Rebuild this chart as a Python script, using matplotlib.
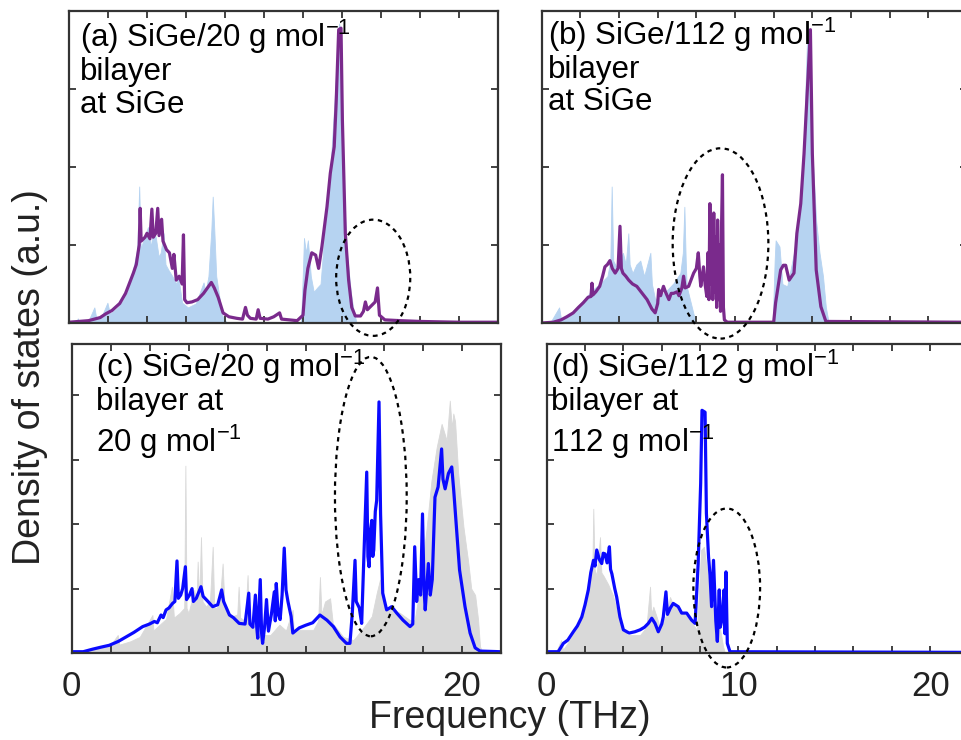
import numpy as np
import matplotlib
matplotlib.use('Agg')
import matplotlib.pyplot as plt
from matplotlib.patches import Ellipse

plt.rcParams['font.family'] = ['Liberation Sans', 'DejaVu Sans']
plt.rcParams['mathtext.fontset'] = 'custom'
plt.rcParams['mathtext.rm'] = 'Liberation Sans'
plt.rcParams['mathtext.it'] = 'Liberation Sans:italic'

# (a) SiGe/20 bilayer, DOS at SiGe: bilayer (line) and bulk SiGe (fill)
freq_a_line = [0.0, 0.5, 1.0, 1.3, 1.6, 1.9, 2.2, 2.6, 2.9, 3.1, 3.3, 3.45, 3.6, 3.65, 3.7, 3.9, 4.0, 4.15,
               4.25, 4.32, 4.45, 4.55, 4.62, 4.75, 4.82, 5.0, 5.15, 5.3, 5.38, 5.5, 5.65, 5.8, 5.87, 5.93,
               6.05, 6.3, 6.6, 6.9, 7.1, 7.3, 7.45, 7.65, 7.9, 8.2, 8.6, 8.9, 9.05, 9.15, 9.3, 9.6, 9.7,
               9.8, 10.2, 10.5, 10.8, 10.9, 11.3, 11.7, 12.0, 12.1, 12.25, 12.45, 12.65, 12.8, 12.97,
               13.23, 13.4, 13.6, 13.7, 13.83, 13.95, 14.02, 14.17, 14.34, 14.5, 14.68, 14.95, 15.1,
               15.2, 15.3, 15.5, 15.7, 15.82, 15.92, 16.2, 17.0, 18.0, 20.0, 22.0]
dos_a_line = [0.01, 0.02, 0.03, 0.05, 0.07, 0.12, 0.16, 0.25, 0.38, 0.51, 0.64, 0.75, 1.0, 1.47, 1.05, 1.1,
              1.15, 1.08, 1.46, 1.1, 1.15, 1.47, 1.12, 1.33, 1.05, 0.94, 0.9, 0.7, 0.88, 0.55, 0.6, 0.5,
              1.13, 0.3, 0.26, 0.27, 0.3, 0.38, 0.45, 0.52, 0.45, 0.33, 0.13, 0.08, 0.06, 0.05, 0.2, 0.1,
              0.06, 0.05, 0.17, 0.06, 0.05, 0.08, 0.13, 0.05, 0.04, 0.03, 0.1, 0.42, 0.7, 0.9, 0.87, 0.7,
              0.98, 1.49, 1.92, 2.26, 2.82, 3.76, 3.78, 2.6, 1.15, 0.55, 0.2, 0.09, 0.09, 0.15, 0.27,
              0.17, 0.22, 0.27, 0.45, 0.1, 0.04, 0.03, 0.02, 0.01, 0.01]
freq_a_fill = [0.0, 0.4, 0.45, 0.5, 1.0, 1.3, 1.4, 1.7, 1.97, 2.1, 2.5, 2.8, 3.0, 3.3, 3.5, 3.6, 3.68, 3.8,
               4.05, 4.2, 4.3, 4.45, 4.6, 4.7, 4.85, 4.95, 5.1, 5.3, 5.5, 5.6, 5.8, 6.1, 6.5, 6.9, 7.0,
               7.15, 7.3, 7.37, 7.45, 7.55, 7.7, 7.85, 8.1, 11.9, 12.0, 12.05, 12.15, 12.25, 12.4, 12.55,
               12.75, 12.9, 13.15, 13.4, 13.66, 13.8, 13.85, 13.95, 14.08, 14.25, 14.46, 14.6, 14.75, 22.0]
dos_a_fill = [0.0, 0.02, 0.06, 0.02, 0.03, 0.2, 0.06, 0.1, 0.26, 0.12, 0.2, 0.3, 0.4, 0.7, 0.95, 1.75, 0.95,
              1.05, 1.23, 0.97, 1.2, 1.1, 0.85, 0.9, 1.15, 0.75, 0.68, 0.6, 0.5, 0.6, 0.26, 0.2, 0.25,
              0.52, 0.4, 0.6, 1.2, 1.62, 1.2, 0.6, 0.35, 0.1, 0.0, 0.0, 0.7, 1.09, 0.9, 1.06, 0.6, 0.4,
              0.46, 0.5, 1.32, 1.96, 3.03, 3.7, 3.84, 3.7, 1.75, 0.9, 0.38, 0.15, 0.0, 0.0]

# (b) SiGe/112 bilayer, DOS at SiGe
freq_b_line = [0.0, 0.6, 1.0, 1.3, 1.63, 1.9, 2.15, 2.4, 2.55, 2.6, 2.65, 2.8, 3.0, 3.15, 3.27, 3.4, 3.53,
               3.65, 3.8, 3.95, 4.05, 4.12, 4.2, 4.35, 4.5, 4.7, 4.92, 5.2, 5.45, 5.7, 5.87, 6.0, 6.05,
               6.15, 6.3, 6.4, 6.58, 6.7, 6.82, 7.0, 7.1, 7.25, 7.34, 7.42, 7.6, 7.86, 8.0, 8.1, 8.18,
               8.23, 8.37, 8.45, 8.54, 8.6, 8.65, 8.7, 8.75, 8.8, 8.85, 8.9, 8.95, 9.0, 9.05, 9.1, 9.15,
               9.2, 9.25, 9.3, 9.35, 9.4, 9.45, 9.6, 12.0, 12.1, 12.36, 12.5, 12.62, 12.8, 13.05, 13.2,
               13.4, 13.57, 13.75, 13.9, 14.0, 14.2, 14.44, 14.7, 22.0]
dos_b_line = [0.0, 0.01, 0.04, 0.08, 0.13, 0.2, 0.26, 0.33, 0.34, 0.51, 0.36, 0.4, 0.47, 0.6, 0.72, 0.75,
              0.8, 0.7, 0.64, 0.7, 1.24, 0.7, 0.64, 0.6, 0.55, 0.5, 0.47, 0.38, 0.3, 0.18, 0.13, 0.25,
              0.43, 0.35, 0.47, 0.4, 0.3, 0.38, 0.38, 0.4, 0.35, 0.45, 0.6, 0.45, 0.47, 0.64, 0.7, 0.9,
              0.6, 0.47, 0.72, 0.5, 0.34, 0.9, 0.3, 1.53, 0.5, 1.2, 0.3, 1.41, 0.4, 1.1, 0.2, 1.32, 0.3,
              1.0, 0.15, 1.2, 1.9, 0.2, 0.04, 0.01, 0.01, 0.26, 0.68, 0.74, 0.74, 0.55, 0.64, 1.15, 1.53,
              2.17, 3.03, 3.76, 2.17, 0.68, 0.21, 0.02, 0.01]
freq_b_fill = [0.0, 0.5, 0.9, 1.0, 1.5, 1.8, 2.2, 2.6, 3.0, 3.4, 3.55, 3.62, 3.7, 3.9, 4.2, 4.35, 4.48,
               4.55, 4.7, 4.9, 5.1, 5.3, 5.62, 5.7, 5.87, 6.1, 6.4, 6.82, 7.17, 7.3, 7.38, 7.45, 7.5, 7.8,
               7.97, 11.95, 12.05, 12.1, 12.3, 12.45, 12.7, 13.05, 13.3, 13.57, 13.75, 13.85, 14.0, 14.2,
               14.37, 14.55, 14.7, 14.85, 22.0]
dos_b_fill = [0.0, 0.03, 0.2, 0.05, 0.12, 0.2, 0.3, 0.42, 0.5, 0.6, 0.8, 1.75, 0.8, 0.7, 0.9, 0.75, 1.15,
              0.75, 0.64, 0.75, 0.8, 0.6, 0.9, 0.5, 0.3, 0.35, 0.4, 0.51, 0.64, 0.9, 1.49, 0.8, 0.47, 0.17,
              0.0, 0.0, 0.8, 1.06, 0.98, 0.5, 0.47, 0.9, 1.32, 2.4, 3.84, 3.47, 2.2, 1.3, 0.9, 0.6, 0.2,
              0.0, 0.0]

# (c) SiGe/20 bilayer, DOS at the 20 g/mol layer
freq_c_line = [0.0, 0.6, 1.09, 1.5, 1.94, 2.4, 2.8, 3.2, 3.65, 4.0, 4.25, 4.4, 4.59, 4.7, 4.85, 5.0, 5.18,
               5.3, 5.41, 5.48, 5.6, 5.7, 5.84, 5.9, 6.05, 6.18, 6.25, 6.4, 6.64, 6.75, 7.0, 7.24, 7.5,
               7.7, 7.8, 8.1, 8.3, 8.6, 8.9, 9.09, 9.15, 9.3, 9.43, 9.5, 9.55, 9.68, 9.75, 9.8, 9.9, 10.0,
               10.1, 10.25, 10.4, 10.45, 10.5, 10.6, 10.7, 10.8, 10.91, 11.0, 11.1, 11.26, 11.35, 11.68,
               12.0, 12.37, 12.74, 13.1, 13.43, 13.77, 14.1, 14.28, 14.4, 14.54, 14.6, 14.76, 14.88, 15.0,
               15.14, 15.2, 15.26, 15.33, 15.4, 15.45, 15.5, 15.58, 15.65, 15.77, 15.85, 15.96, 16.16,
               16.42, 16.68, 17.0, 17.36, 17.5, 17.6, 17.7, 17.8, 17.9, 18.0, 18.08, 18.14, 18.3, 18.4,
               18.5, 18.64, 18.8, 18.98, 19.05, 19.16, 19.33, 19.5, 19.6, 19.75, 19.9, 20.18, 20.44,
               20.7, 20.95, 22.0]
dos_c_line = [0.02, 0.02, 0.06, 0.09, 0.12, 0.18, 0.25, 0.32, 0.41, 0.45, 0.49, 0.47, 0.59, 0.55, 0.67,
              0.7, 0.77, 0.8, 1.43, 0.85, 0.9, 1.0, 1.34, 0.83, 0.9, 1.0, 0.8, 0.85, 1.03, 0.88, 0.8,
              0.72, 0.75, 0.98, 0.8, 0.59, 0.55, 0.46, 0.45, 0.93, 0.45, 0.4, 0.9, 0.4, 0.23, 1.14, 0.3,
              0.15, 0.4, 0.83, 0.34, 0.6, 0.95, 0.5, 1.08, 0.6, 0.52, 0.9, 1.63, 0.98, 0.8, 0.57, 0.31,
              0.39, 0.43, 0.47, 0.59, 0.51, 0.41, 0.25, 0.15, 0.15, 0.62, 1.44, 0.8, 0.7, 0.46, 1.55,
              2.81, 1.5, 1.34, 1.9, 2.06, 1.5, 1.6, 2.2, 2.37, 3.9, 2.16, 0.93, 0.67, 0.72, 0.62, 0.51,
              0.41, 0.45, 1.65, 0.8, 1.14, 0.9, 2.16, 1.0, 0.67, 1.39, 0.9, 1.14, 2.42, 2.58, 3.17, 2.7,
              2.55, 2.79, 2.89, 2.53, 1.91, 1.29, 0.72, 0.31, 0.08, 0.03, 0.02]
freq_c_fill = [0.0, 0.5, 1.0, 1.5, 2.0, 2.37, 2.45, 3.0, 3.5, 4.15, 4.2, 4.85, 5.15, 5.25, 5.54, 5.78, 5.84,
               5.9, 6.0, 6.3, 6.4, 6.47, 6.55, 6.64, 6.72, 6.9, 7.1, 7.24, 7.32, 7.45, 7.6, 7.75, 7.85,
               8.0, 8.26, 8.5, 8.57, 8.65, 8.9, 9.03, 9.1, 9.3, 9.65, 10.2, 10.66, 11.0, 11.34, 11.4,
               11.7, 12.4, 12.65, 12.74, 12.82, 13.0, 13.26, 13.4, 13.94, 14.46, 14.88, 15.14, 15.4,
               15.65, 15.82, 16.08, 16.42, 16.85, 17.36, 17.6, 17.87, 18.2, 18.46, 18.73, 18.98, 19.24,
               19.4, 19.5, 19.58, 19.67, 19.83, 20.1, 20.35, 20.5, 20.7, 20.85, 20.95, 21.1, 22.0]
dos_c_fill = [0.0, 0.03, 0.06, 0.08, 0.12, 0.28, 0.13, 0.18, 0.25, 0.59, 0.35, 0.53, 1.03, 0.55, 0.62, 0.7,
              2.91, 0.7, 0.62, 0.98, 0.7, 1.42, 0.8, 1.8, 0.8, 0.72, 0.8, 1.65, 0.7, 0.7, 0.8, 1.39, 0.7,
              0.65, 0.57, 0.6, 1.03, 0.55, 0.5, 1.21, 0.5, 0.44, 0.28, 0.28, 0.44, 0.35, 0.67, 0.3, 0.36,
              0.36, 0.5, 1.18, 0.6, 0.8, 0.85, 0.46, 0.25, 0.2, 0.36, 0.46, 0.57, 0.93, 1.14, 0.67, 0.69,
              0.62, 0.51, 0.51, 1.03, 1.91, 2.68, 3.2, 3.56, 3.3, 3.92, 3.5, 3.72, 3.6, 2.79, 1.96, 1.4,
              1.0, 0.9, 0.52, 0.1, 0.0, 0.0]

# (d) SiGe/112 bilayer, DOS at the 112 g/mol layer
freq_d_line = [0.0, 0.6, 0.87, 1.1, 1.39, 1.6, 1.83, 2.0, 2.17, 2.3, 2.44, 2.52, 2.61, 2.75, 2.87, 2.95,
               3.04, 3.15, 3.27, 3.33, 3.4, 3.55, 3.65, 3.82, 4.0, 4.3, 4.6, 4.87, 5.1, 5.3, 5.48, 5.65,
               5.82, 6.0, 6.08, 6.22, 6.3, 6.45, 6.6, 6.86, 7.04, 7.3, 7.56, 7.74, 7.9, 8.03, 8.1, 8.26,
               8.33, 8.44, 8.52, 8.6, 8.7, 8.82, 8.9, 9.0, 9.05, 9.13, 9.25, 9.3, 9.35, 9.42, 9.56, 22.0]
dos_d_line = [0.02, 0.02, 0.15, 0.2, 0.33, 0.42, 0.56, 0.75, 0.98, 1.25, 1.44, 1.35, 1.6, 1.45, 1.39, 1.55,
              1.54, 1.4, 1.65, 1.3, 1.23, 1.0, 0.87, 0.56, 0.36, 0.31, 0.33, 0.36, 0.4, 0.46, 0.54, 0.46,
              0.33, 0.45, 0.56, 0.95, 0.6, 0.7, 0.77, 0.72, 0.62, 0.62, 0.51, 0.46, 1.39, 2.63, 3.77,
              3.74, 2.17, 1.5, 1.2, 0.72, 1.44, 0.5, 0.18, 0.98, 0.4, 0.5, 0.98, 0.3, 1.26, 0.15, 0.02,
              0.01]
freq_d_fill = [0.0, 0.5, 0.75, 0.85, 1.2, 1.6, 2.0, 2.2, 2.38, 2.43, 2.5, 2.6, 2.78, 2.85, 2.96, 3.2, 3.45,
               3.82, 4.2, 4.87, 5.2, 5.39, 5.45, 5.56, 5.9, 6.26, 6.43, 6.6, 6.78, 7.13, 7.48, 7.83, 7.95,
               8.05, 8.2, 8.4, 8.6, 8.8, 9.0, 9.2, 9.3, 22.0]
dos_d_fill = [0.0, 0.02, 0.2, 0.05, 0.2, 0.4, 0.8, 0.98, 1.3, 2.24, 1.3, 1.2, 1.8, 1.25, 1.2, 1.07, 0.9,
              0.46, 0.28, 0.28, 0.4, 1.03, 0.6, 0.72, 0.41, 0.6, 0.87, 0.75, 0.7, 0.62, 0.51, 0.36, 1.0,
              1.6, 1.65, 1.2, 0.8, 0.6, 0.45, 0.1, 0.0, 0.0]

labels = [
    ['(a) SiGe/20 g mol$^{-1}$', 'bilayer', 'at SiGe'],
    ['(b) SiGe/112 g mol$^{-1}$', 'bilayer', 'at SiGe'],
    ['(c) SiGe/20 g mol$^{-1}$', 'bilayer at', '20 g mol$^{-1}$'],
    ['(d) SiGe/112 g mol$^{-1}$', 'bilayer at', '112 g mol$^{-1}$'],
]

# dotted ellipses: centre (THz, DOS), width (THz), height (DOS)
ellipses = [((15.6, 0.58), 3.8, 1.49), ((9.25, 1.02), 4.95, 2.44),
            ((15.35, 2.43), 3.68, 4.34), ((9.39, 1.01), 3.48, 2.47)]

W, H = 961, 740
fig = plt.figure(figsize=(W / 100, H / 100), dpi=100)


def px_axes(x0, y_top, x1, y_bot):
    return fig.add_axes([x0 / W, 1 - y_bot / H, (x1 - x0) / W, (y_bot - y_top) / H])


axes = [px_axes(69, 11, 498, 323), px_axes(541.7, 11, 967, 323),
        px_axes(71.5, 344, 500.5, 653), px_axes(546.7, 344, 968.5, 653)]
ylims = [4.0, 4.0, 4.8, 4.8]

series = [
    (freq_a_line, dos_a_line, freq_a_fill, dos_a_fill, '#7a2a8c', '#b6d3f1'),
    (freq_b_line, dos_b_line, freq_b_fill, dos_b_fill, '#7a2a8c', '#b6d3f1'),
    (freq_c_line, dos_c_line, freq_c_fill, dos_c_fill, '#0a0aff', '#d9d9d9'),
    (freq_d_line, dos_d_line, freq_d_fill, dos_d_fill, '#0a0aff', '#d9d9d9'),
]

for i, ax in enumerate(axes):
    fl, dl, ff, df, lc, fc = series[i]
    ax.fill_between(ff, 0, df, color=fc, lw=0.6, zorder=1)
    ax.plot(fl, dl, color=lc, lw=2.3, zorder=2)
    (cx, cy), ew, eh = ellipses[i]
    ax.add_patch(Ellipse((cx, cy), ew, eh, fill=False, ec='black', lw=1.6,
                         ls=(0, (2, 2)), clip_on=False, zorder=5))
    ax.set_xlim(0, 22)
    ax.set_ylim(0, ylims[i])
    ax.set_xticks(np.arange(0, 23, 2), minor=True)
    ax.set_xticks([0, 10, 20])
    ax.set_yticks([1, 2, 3, 4])
    ax.set_yticklabels([])
    ax.tick_params(which='both', direction='in', top=True, right=True, length=5,
                   width=1.3, color='#333333', labelsize=25, pad=12)
    for s in ax.spines.values():
        s.set_color('#333333')
        s.set_linewidth(1.6)
    if i < 2:
        ax.set_xticklabels([])
    else:
        for t in ax.get_xticklabels():
            t.set_color('#222222')

# panel captions, baselines in pixels
caption_pos = [(80, [47, 80, 113]), (548, [45, 78, 110]),
               (96, [377, 410, 452]), (551, [377, 410, 452])]
for (x, ys), lines in zip(caption_pos, labels):
    for y, s in zip(ys, lines):
        fig.text(x / W, 1 - y / H, s, fontsize=22.5, va='baseline', ha='left', color='black')

fig.text(510 / W, 1 - 718 / H, 'Frequency (THz)', fontsize=27, ha='center', va='center',
         color='#222222')
fig.text(30 / W, 1 - 377 / H, 'Density of states (a.u.)', fontsize=27, ha='center',
         va='center', rotation=90, color='#222222')

fig.savefig('out.png', dpi=100)
